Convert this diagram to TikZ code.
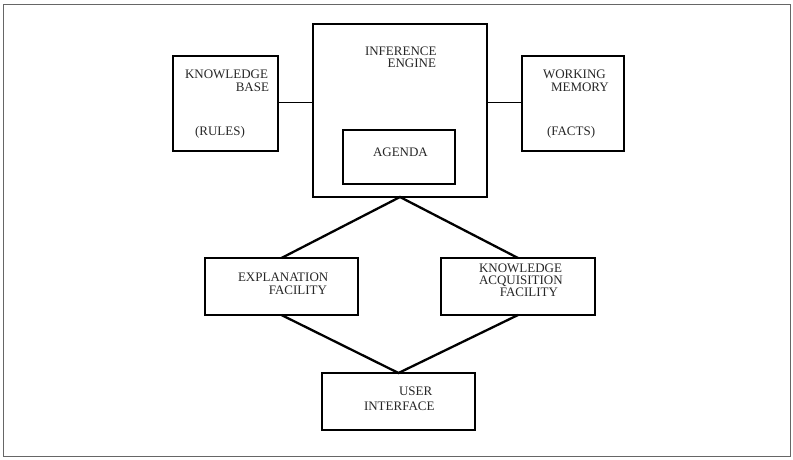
\documentclass[tikz,border=0pt]{standalone}
\usepackage{fontspec}
\setmainfont{Liberation Serif}
\begin{document}
\begin{tikzpicture}[x=1pt,y=-1pt,every node/.style={inner sep=0pt,outer sep=0pt},
  block/.style={rectangle,draw=black,line width=1.2pt},
  boxtext/.style={font=\fontsize{13}{13}\selectfont,text=black!85},
  link/.style={draw=black,line width=1pt},
  wire/.style={draw=black,line width=2.3pt}]
\useasboundingbox (0,0) rectangle (793,459);
% Frame
\path[draw=black!60,line width=0.7pt] (3,4) rectangle (790,456);
% Top row
\node(kb)[block,minimum width=105pt,minimum height=95pt] at (225.5,103.5) {};
\node(ie)[block,minimum width=174pt,minimum height=173pt] at (400,110.5) {};
\node(ag)[block,minimum width=112pt,minimum height=54pt] at (399,157) {};
\node(wm)[block,minimum width=102pt,minimum height=95pt] at (573,103.5) {};
% Middle row
\node(ex)[block,minimum width=153pt,minimum height=57pt] at (281.5,286.5) {};
\node(ka)[block,minimum width=154pt,minimum height=57pt] at (518,286.5) {};
% Bottom
\node(ui)[block,minimum width=153pt,minimum height=57pt] at (398.5,401.5) {};
% Texts
\node(kb1)[boxtext,anchor=base west] at (185,78) {KNOWLEDGE};
\node(kb2)[boxtext,anchor=base east] at (269,91) {BASE};
\node(kb3)[boxtext,anchor=base west] at (195,135) {(RULES)};
\node(ie1)[boxtext,anchor=base west] at (365,55) {INFERENCE};
\node(ie2)[boxtext,anchor=base east] at (436,67) {ENGINE};
\node(ag1)[boxtext,anchor=base west] at (373,156) {AGENDA};
\node(wm1)[boxtext,anchor=base west] at (543,78) {WORKING};
\node(wm2)[boxtext,anchor=base west] at (551,91) {MEMORY};
\node(wm3)[boxtext,anchor=base west] at (547,135) {(FACTS)};
\node(ex1)[boxtext,anchor=base west] at (238,281) {EXPLANATION};
\node(ex2)[boxtext,anchor=base east] at (327,294) {FACILITY};
\node(ka1)[boxtext,anchor=base west] at (479,272) {KNOWLEDGE};
\node(ka2)[boxtext,anchor=base west] at (479,284) {ACQUISITION};
\node(ka3)[boxtext,anchor=base east] at (558,296) {FACILITY};
\node(ui1)[boxtext,anchor=base west] at (399,395) {USER};
\node(ui2)[boxtext,anchor=base west] at (364,410) {INTERFACE};
% Links
\path[link] (kb.east |- 0,102) -- (ie.west |- 0,102);
\path[link] (ie.east |- 0,102) -- (wm.west |- 0,102);
\path[wire] (ex.north) -- (ie.south) -- (ka.north);
\path[wire] (ex.south) -- (ui.north) -- (ka.south);
\end{tikzpicture}
\end{document}
